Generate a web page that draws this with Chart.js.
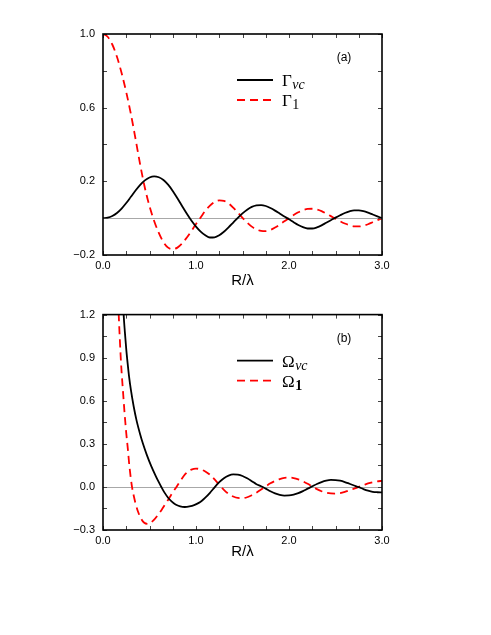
<!DOCTYPE html>
<html>
<head>
<meta charset="utf-8">
<script src="https://cdn.jsdelivr.net/npm/chart.js@4.4.0/dist/chart.umd.min.js"></script>
<style>
  html, body { margin: 0; padding: 0; background: #fff; }
  body { width: 491px; height: 635px; position: relative; overflow: hidden; }
  canvas { position: absolute; left: 0; }
  #cA { top: 0; }
  #cB { top: 300px; }
</style>
</head>
<body>
<canvas id="cA" width="491" height="300"></canvas>
<canvas id="cB" width="491" height="270"></canvas>
<script>
// ---------------- Panel (a) data ----------------
const rA = [0.00,0.05,0.10,0.15,0.20,0.25,0.30,0.35,0.40,0.45,0.50,0.55,0.60,0.65,0.70,0.75,0.80,0.85,0.90,0.95,
            1.00,1.05,1.10,1.15,1.20,1.25,1.30,1.35,1.40,1.45,1.50,1.55,1.60,1.65,1.70,1.75,1.80,1.85,1.90,1.95,
            2.00,2.05,2.10,2.15,2.20,2.25,2.30,2.35,2.40,2.45,2.50,2.55,2.60,2.65,2.70,2.75,2.80,2.85,2.90,2.95,3.00];
const gammaVc = [0.000,0.003,0.012,0.028,0.052,0.082,0.116,0.150,0.181,0.205,0.221,0.227,0.222,0.207,0.182,0.148,0.108,0.066,0.025,-0.013,
                 -0.046,-0.073,-0.093,-0.105,-0.104,-0.093,-0.074,-0.050,-0.024,0.002,0.026,0.046,0.061,0.069,0.071,0.066,0.055,0.041,0.025,0.009,
                 -0.006,-0.022,-0.037,-0.049,-0.056,-0.056,-0.050,-0.039,-0.025,-0.011,0.003,0.016,0.028,0.037,0.042,0.042,0.038,0.030,0.020,0.010,0.000];
const gamma1 = [1.000,0.985,0.943,0.876,0.788,0.684,0.565,0.430,0.290,0.165,0.065,-0.015,-0.080,-0.130,-0.160,-0.168,-0.160,-0.138,-0.106,-0.070,
                -0.032,0.004,0.040,0.068,0.088,0.097,0.094,0.080,0.057,0.030,0.002,-0.024,-0.046,-0.061,-0.069,-0.070,-0.064,-0.051,-0.035,-0.017,
                0.000,0.017,0.032,0.043,0.050,0.051,0.047,0.038,0.025,0.011,-0.003,-0.017,-0.029,-0.038,-0.044,-0.045,-0.041,-0.033,-0.022,-0.011,0.000];

// ---------------- Panel (b) data ----------------
const rOmegaVc = [0.215,0.222,0.235,0.25,0.265,0.28,0.30,0.33,0.36,0.40,0.43,0.47,0.52,0.57,0.60,0.63,0.66,0.70,0.74,0.78,0.83,0.88,0.93,0.98,
                  1.03,1.06,1.10,1.15,1.20,1.25,1.30,1.35,1.40,1.45,1.50,1.55,1.60,1.65,1.70,1.75,1.80,1.85,1.90,1.95,
                  2.00,2.05,2.10,2.15,2.20,2.25,2.30,2.35,2.40,2.45,2.50,2.55,2.60,2.65,2.70,2.75,2.80,2.85,2.90,2.95,3.00];
const omegaVc = [1.30,1.20,1.08,0.96,0.86,0.77,0.675,0.56,0.465,0.365,0.30,0.225,0.143,0.072,0.033,-0.004,-0.038,-0.075,-0.103,-0.123,-0.136,-0.140,-0.136,-0.127,
                 -0.111,-0.098,-0.075,-0.041,-0.003,0.033,0.061,0.079,0.087,0.085,0.076,0.060,0.040,0.019,0.005,-0.012,-0.030,-0.045,-0.055,-0.060,
                 -0.059,-0.053,-0.043,-0.029,-0.012,0.004,0.020,0.034,0.044,0.049,0.048,0.043,0.034,0.022,0.010,-0.002,-0.015,-0.026,-0.034,-0.037,-0.038];
const rOmega1 = [0.163,0.169,0.18,0.19,0.20,0.21,0.22,0.23,0.24,0.25,0.26,0.27,0.28,0.29,0.30,0.312,0.33,0.35,0.377,0.41,0.44,0.484,0.52,0.55,0.59,0.63,0.67,0.71,0.75,0.79,0.83,0.87,0.91,0.95,
                 1.00,1.05,1.10,1.15,1.20,1.25,1.30,1.35,1.40,1.45,1.50,1.55,1.60,1.65,1.70,1.75,1.80,1.85,1.90,1.95,
                 2.00,2.05,2.10,2.15,2.20,2.25,2.30,2.35,2.40,2.45,2.50,2.55,2.60,2.65,2.70,2.75,2.80,2.85,2.90,2.95,3.00];
const omega1 = [1.30,1.20,1.04,0.91,0.80,0.71,0.62,0.53,0.45,0.375,0.31,0.245,0.17,0.11,0.055,0.0,-0.06,-0.115,-0.173,-0.222,-0.248,-0.258,-0.246,-0.228,-0.196,-0.160,-0.120,-0.080,-0.038,0.0,0.040,0.078,0.105,0.121,
                0.128,0.122,0.108,0.085,0.052,0.015,-0.020,-0.048,-0.067,-0.077,-0.078,-0.072,-0.058,-0.040,-0.018,0.004,0.025,0.042,0.055,0.063,
                0.065,0.062,0.053,0.039,0.022,0.003,-0.015,-0.030,-0.040,-0.045,-0.046,-0.043,-0.035,-0.024,-0.012,0.000,0.012,0.024,0.033,0.039,0.042];

// ---------------- Ticks and labels ----------------
const xTicks = [0,0.25,0.5,0.75,1,1.25,1.5,1.75,2,2.25,2.5,2.75,3];
const xTickLabels = [0,1,2,3];
const yTicksA = [-0.2,0,0.2,0.4,0.6,0.8,1.0];
const yTickLabelsA = [-0.2,0.2,0.6,1.0];
const yTicksB = [-0.3,-0.15,0,0.15,0.3,0.45,0.6,0.75,0.9,1.05,1.2];
const yTickLabelsB = [-0.3,0,0.3,0.6,0.9,1.2];
const xTitle = 'R/\u03bb';
const legendMainA = ['\u0393','\u0393'];
const legendSubA = ['vc','1'];
const legendMainB = ['\u03a9','\u03a9'];
const legendSubB = ['vc','1'];

Chart.defaults.font.family = '"Liberation Sans", Arial, sans-serif';
Chart.defaults.color = '#000';

function fmt(v) {
  const s = Math.abs(v).toFixed(1);
  return (v < -1e-9 ? '\u2212' : '') + s;
}
function inList(v, list) { return list.some(t => Math.abs(t - v) < 1e-6); }

const framePlugin = {
  id: 'frame',
  beforeDatasetsDraw(chart, args, o) {
    const {ctx, chartArea: a, scales: {y}} = chart;
    const y0 = Math.round(y.getPixelForValue(0)) + 0.5;
    ctx.save();
    ctx.strokeStyle = '#a8a8a8';
    ctx.lineWidth = 1;
    ctx.beginPath(); ctx.moveTo(a.left, y0); ctx.lineTo(a.right, y0); ctx.stroke();
    ctx.restore();
  },
  afterDatasetsDraw(chart, args, o) {
    const {ctx, chartArea: a, scales: {x, y}} = chart;
    ctx.save();
    // inward tick marks on all four sides
    ctx.strokeStyle = '#444';
    ctx.lineWidth = 1;
    ctx.beginPath();
    x.ticks.forEach(t => {
      const px = Math.round(x.getPixelForValue(t.value)) + 0.5;
      ctx.moveTo(px, a.bottom); ctx.lineTo(px, a.bottom - 4);
      ctx.moveTo(px, a.top); ctx.lineTo(px, a.top + 4);
    });
    y.ticks.forEach(t => {
      const py = Math.round(y.getPixelForValue(t.value)) + 0.5;
      ctx.moveTo(a.left, py); ctx.lineTo(a.left + 4, py);
      ctx.moveTo(a.right, py); ctx.lineTo(a.right - 4, py);
    });
    ctx.stroke();
    // frame
    ctx.strokeStyle = '#000';
    ctx.lineWidth = 1.6;
    ctx.strokeRect(a.left, a.top, a.right - a.left, a.bottom - a.top);
    // panel label
    ctx.fillStyle = '#000';
    ctx.font = '12px "Liberation Sans", Arial, sans-serif';
    ctx.textAlign = 'center';
    ctx.textBaseline = 'middle';
    ctx.fillText(o.panel, a.left + 241, a.top + 24);
    // legend
    chart.data.datasets.forEach((ds, i) => {
      const ly = a.top + 46 + i * 20;
      ctx.strokeStyle = ds.borderColor;
      ctx.lineWidth = ds.borderWidth;
      ctx.setLineDash(ds.borderDash || []);
      ctx.beginPath(); ctx.moveTo(a.left + 134, ly); ctx.lineTo(a.left + 170, ly); ctx.stroke();
      ctx.setLineDash([]);
      ctx.textAlign = 'left';
      ctx.textBaseline = 'alphabetic';
      ctx.fillStyle = '#000';
      ctx.font = '17px "Liberation Serif", "Times New Roman", serif';
      const tx = a.left + 179;
      ctx.fillText(o.main[i], tx, ly + 6);
      const w = ctx.measureText(o.main[i]).width;
      if (o.sub[i] === 'vc') ctx.font = 'italic 14px "Liberation Serif", "Times New Roman", serif';
      else ctx.font = (o.boldSub ? 'bold ' : '') + '14px "Liberation Serif", "Times New Roman", serif';
      ctx.fillText(o.sub[i], tx + w + 0.5, ly + 9);
    });
    ctx.restore();
  }
};

function makeChart(id, series, yMin, yMax, yTicks, yLabels, padTop, xHeight, titlePadBottom, plug) {
  return new Chart(document.getElementById(id), {
    type: 'line',
    data: {
      datasets: series.map(s => ({
        data: s.r.map((r, i) => ({x: r, y: s.v[i]})),
        borderColor: s.color,
        borderWidth: 1.8,
        borderDash: s.dash,
        pointRadius: 0,
        fill: false,
        cubicInterpolationMode: 'monotone',
        clip: 0
      }))
    },
    options: {
      responsive: false,
      animation: false,
      devicePixelRatio: 1,
      layout: { padding: { left: 0, right: 109, top: padTop, bottom: 0 } },
      plugins: { legend: { display: false }, tooltip: { enabled: false }, frame: plug },
      scales: {
        x: {
          type: 'linear', min: 0, max: 3,
          grid: { display: false, drawTicks: false },
          border: { display: false },
          afterBuildTicks: s => { s.ticks = xTicks.map(v => ({value: v})); },
          afterFit: s => { s.height = xHeight; },
          ticks: {
            autoSkip: false, maxRotation: 0, padding: 4,
            font: { size: 11 }, color: '#000',
            callback: v => inList(v, xTickLabels) ? fmt(v) : ''
          },
          title: { display: true, text: xTitle, color: '#000', font: { size: 15 }, padding: { top: 0, bottom: titlePadBottom } }
        },
        y: {
          type: 'linear', min: yMin, max: yMax,
          grid: { display: false, drawTicks: false },
          border: { display: false },
          afterBuildTicks: s => { s.ticks = yTicks.map(v => ({value: v})); },
          afterFit: s => { s.width = 103; },
          ticks: {
            autoSkip: false, padding: 8,
            font: { size: 11 }, color: '#000',
            callback: v => inList(v, yLabels) ? fmt(v) : ''
          }
        }
      }
    },
    plugins: [framePlugin]
  });
}

makeChart('cA', [
  { r: rA, v: gammaVc, color: '#000000', dash: [] },
  { r: rA, v: gamma1, color: '#ff0000', dash: [8, 5] }
], -0.2, 1.0, yTicksA, yTickLabelsA, 34, 45, 10,
  { panel: '(a)', main: legendMainA, sub: legendSubA, boldSub: false });

makeChart('cB', [
  { r: rOmegaVc, v: omegaVc, color: '#000000', dash: [] },
  { r: rOmega1, v: omega1, color: '#ff0000', dash: [8, 5] }
], -0.3, 1.2, yTicksB, yTickLabelsB, 9, 40, 9,
  { panel: '(b)', main: legendMainB, sub: legendSubB, boldSub: true });
</script>
</body>
</html>
